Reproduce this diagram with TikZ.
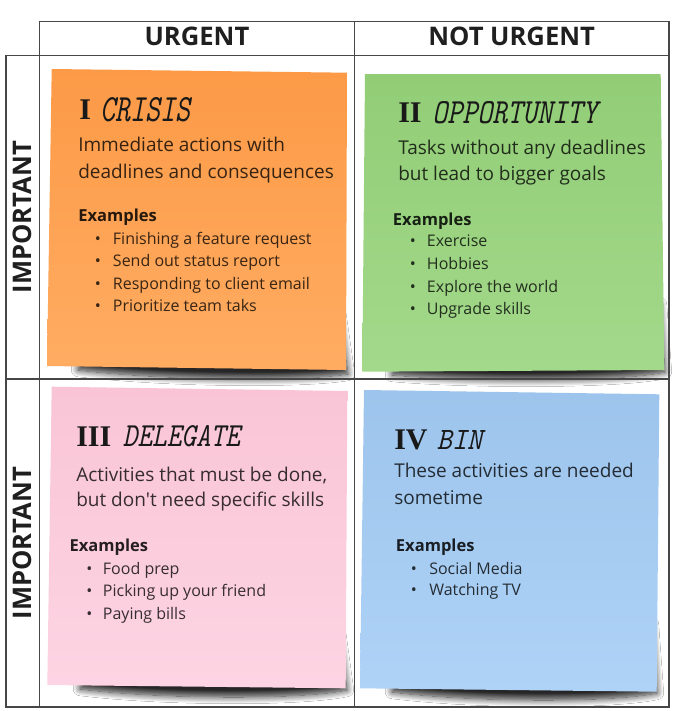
\documentclass[tikz,border=0pt]{standalone}
\usepackage{fontspec}
\usepackage{graphicx}
\setmainfont{Open Sans}[Ligatures=TeXOff]
\newfontfamily\numfont{Liberation Serif}
\usetikzlibrary{shadows.blur}

\definecolor{gridline}{HTML}{474747}
\definecolor{crisisTop}{HTML}{FC9A47}
\definecolor{crisisBot}{HTML}{FFAC62}
\definecolor{oppTop}{HTML}{92CD76}
\definecolor{oppBot}{HTML}{A3D98B}
\definecolor{delTop}{HTML}{F9C5D6}
\definecolor{delBot}{HTML}{FDD4E3}
\definecolor{binTop}{HTML}{9DC4EC}
\definecolor{binBot}{HTML}{AFD3F7}

\tikzset{
  gridrule/.style={draw=gridline, line width=1.1pt},
  headtext/.style={font=\fontsize{19.2}{23}\selectfont\bfseries, text=black!88, inner sep=0pt},
  sidetext/.style={headtext, rotate=90},
  numtitle/.style={font=\numfont\fontsize{22.5}{26}\selectfont\bfseries, text=black!90, inner sep=0pt, anchor=base west},
  handtitle/.style={font=\ttfamily\itshape, text=black!90, inner sep=0pt, anchor=base west},
  bodytext/.style={font=\fontsize{14.25}{18}\selectfont, text=black, text opacity=.78, inner sep=0pt, anchor=base west},
  exhead/.style={font=\fontsize{12.4}{15}\selectfont\bfseries, text=black, text opacity=.85, inner sep=0pt, anchor=base west},
  itemtext/.style={font=\fontsize{12}{15}\selectfont, text=black, text opacity=.78, inner sep=0pt, anchor=base west},
  bulletmark/.style={itemtext, anchor=base},
  notelift/.style={blur shadow={shadow xshift=0pt, shadow yshift=-3pt, shadow blur radius=5pt, shadow blur steps=12, shadow opacity=85}},
}

\begin{document}
\begin{tikzpicture}[x=0.75pt, y=-0.75pt]
\useasboundingbox (0,0) rectangle (675,711);
\fill[white] (0,0) rectangle (675,711);

% ---- lifted-corner shadows under the sticky notes ----
\path[notelift] (80,330) -- (338,300) -- (348,370) .. controls (300,378) and (160,376) .. (78,366) -- cycle;
\path[notelift] (392,335) -- (660,300) -- (665,368) .. controls (620,378) and (470,378) .. (392,371) -- cycle;
\path[notelift] (80,650) -- (338,620) -- (347,686) .. controls (300,696) and (160,695) .. (80,685) -- cycle;
\path[notelift] (392,655) -- (652,620) -- (657,689) .. controls (610,699) and (470,698) .. (392,688) -- cycle;

% ---- sticky notes ----
\shade[top color=crisisTop, bottom color=crisisBot] (51.7,69) -- (347,72.7) -- (346,370) -- (47,366) -- cycle;
\shade[top color=oppTop, bottom color=oppBot] (365,74) -- (660.7,74) -- (664.3,370) -- (362.3,371.7) -- cycle;
\shade[top color=delTop, bottom color=delBot] (51.7,386.7) -- (347.3,391) -- (345.7,688.3) -- (47.3,685) -- cycle;
\shade[top color=binTop, bottom color=binBot] (364,390) -- (659.3,394.3) -- (656.7,691.7) -- (360,688.3) -- cycle;

% ---- table rules ----
\draw[gridrule] (39.7,21.3) -- (669,21.3) -- (669,707) -- (6,707) -- (6,55.3) -- (39.7,55.3);
\draw[gridrule] (39.7,21.3) -- (39.7,707);
\draw[gridrule] (354.3,21.3) -- (354.3,707);
\draw[gridrule] (39.7,55.3) -- (669,55.3);
\draw[gridrule] (6,379) -- (669,379);

% ---- headings ----
\node[headtext, anchor=base] (hUrgent) at (197,45) {URGENT};
\node[headtext, anchor=base] (hNotUrgent) at (511.7,45) {NOT URGENT};
\node[sidetext] (sideTop) at (22.5,217) {IMPORTANT};
\node[sidetext] (sideBottom) at (22.5,543) {IMPORTANT};

% ---- I: crisis ----
\node[numtitle] (crisisNum) at (79,119) {I};
\node[handtitle] (crisisWord) at (100,121.5) {\resizebox{67.5pt}{18pt}{CRISIS}};
\node[bodytext] (crisisL1) at (78,151.7) {Immediate actions with};
\node[bodytext] (crisisL2) at (78,178) {deadlines and consequences};
\node[exhead] (crisisEx) at (78,221) {Examples};
\foreach \txt [count=\i] in {Finishing a feature request, Send out status report, Responding to client email, Prioritize team taks} {
  \node[bulletmark] (crisisDot\i) at (98,{244+22.55*(\i-1)}) {•};
  \node[itemtext] (crisisItem\i) at (112.7,{244+22.55*(\i-1)}) {\txt};
}

% ---- II: opportunity ----
\node[numtitle] (oppNum) at (398,122) {II};
\node[handtitle] (oppWord) at (432,123.5) {\resizebox{123.75pt}{16.5pt}{OPPORTUNITY}};
\node[bodytext] (oppL1) at (398,154) {Tasks without any deadlines};
\node[bodytext] (oppL2) at (398,180) {but lead to bigger goals};
\node[exhead] (oppEx) at (392.7,225) {Examples};
\foreach \txt [count=\i] in {Exercise, Hobbies, Explore the world, Upgrade skills} {
  \node[bulletmark] (oppDot\i) at (413,{246.7+22.75*(\i-1)}) {•};
  \node[itemtext] (oppItem\i) at (426.7,{246.7+22.75*(\i-1)}) {\txt};
}

% ---- III: delegate ----
\node[numtitle] (delNum) at (76,446) {III};
\node[handtitle] (delWord) at (122.7,446) {\resizebox{87.75pt}{15.75pt}{DELEGATE}};
\node[bodytext] (delL1) at (76,481) {Activities that must be done,};
\node[bodytext] (delL2) at (76,506.7) {but don't need specific skills};
\node[exhead] (delEx) at (69.3,551) {Examples};
\foreach \txt [count=\i] in {Food prep, Picking up your friend, Paying bills} {
  \node[bulletmark] (delDot\i) at (89.3,{574+22.5*(\i-1)}) {•};
  \node[itemtext] (delItem\i) at (102.7,{574+22.5*(\i-1)}) {\txt};
}

% ---- IV: bin ----
\node[numtitle] (binNum) at (394,449) {IV};
\node[handtitle] (binWord) at (436.7,449) {\resizebox{34pt}{14.25pt}{BIN}};
\node[bodytext] (binL1) at (394,477.7) {These activities are needed};
\node[bodytext] (binL2) at (394,504) {sometime};
\node[exhead] (binEx) at (395.7,551) {Examples};
\foreach \txt [count=\i] in {Social Media, Watching TV} {
  \node[bulletmark] (binDot\i) at (414,{574+21.7*(\i-1)}) {•};
  \node[itemtext] (binItem\i) at (429,{574+21.7*(\i-1)}) {\txt};
}
\end{tikzpicture}
\end{document}
